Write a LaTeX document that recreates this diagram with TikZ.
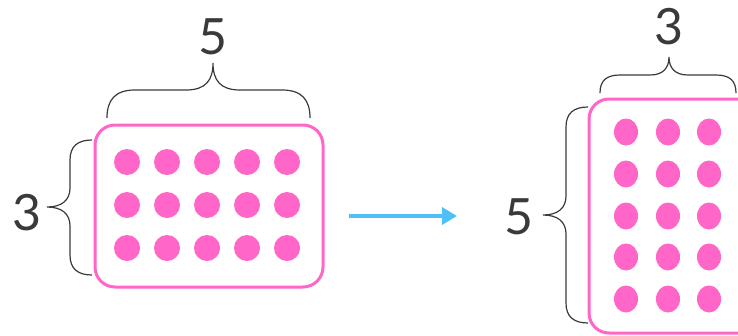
\documentclass[tikz,border=0pt]{standalone}
\usepackage{fontspec}
\setmainfont{Lato}
\usetikzlibrary{arrows.meta}
\definecolor{dotpink}{HTML}{FF66C8}
\definecolor{arrowblue}{HTML}{4FC0F5}
\definecolor{textgray}{HTML}{3A3A3A}
\tikzset{
  box/.style={draw=dotpink, line width=3pt, rounded corners=20pt},
  dot/.style={fill=dotpink},
  brace/.style={draw=textgray, line width=1.2pt},
  count/.style={text=textgray, font=\fontsize{50}{50}\selectfont, inner sep=0pt}
}
\begin{document}
\begin{tikzpicture}[x=1pt, y=-1pt]
        \useasboundingbox (0,0) rectangle (738,335);
        \clip (0,0) rectangle (738,335);
        % left array: 3 rows of 5
        \draw[box] (95,125) rectangle (323,287);
        \foreach \x in {127,167,207,247,287}
            \foreach \y in {162,205,248}
                \fill[dot] (\x,\y) circle (13);
        \draw[brace] (107,118) .. controls (107,100) and (115,90) .. (135,90) -- (186,90)
            .. controls (206,90) and (213,80) .. (213,63)
            .. controls (213,80) and (220,90) .. (240,90) -- (282,90)
            .. controls (302,90) and (310,100) .. (310,118);
        \draw[brace] (92,140) .. controls (78,140) and (70,146) .. (70,160) -- (70,188)
            .. controls (70,200) and (62,207) .. (47,207)
            .. controls (62,207) and (70,214) .. (70,226) -- (70,255)
            .. controls (70,269) and (78,275) .. (92,275);
        \node[count] (five) at (213,37) {5};
        \node[count] (three) at (27,213) {3};
        % arrow
        \coordinate (from) at (349,216);
        \coordinate (to) at (457,216);
        \draw[arrowblue, line width=3.5pt, -{Triangle[length=15pt,width=17pt]}] (from) -- (to);
        % right array: 5 rows of 3
        \draw[box] (589,99) rectangle (760,333);
        \foreach \x in {626,668,709}
            \foreach \y in {132,174,216,257,299}
                \fill[dot] (\x,\y) ellipse (12 and 13.5);
        \draw[brace] (600,93) .. controls (600,81) and (606,75) .. (620,75) -- (650,75)
            .. controls (663,75) and (669,68) .. (669,57)
            .. controls (669,68) and (675,75) .. (688,75) -- (716,75)
            .. controls (730,75) and (736,81) .. (736,93);
        \draw[brace] (588,107) .. controls (574,107) and (566,113) .. (566,127) -- (566,196)
            .. controls (566,208) and (558,215) .. (543,215)
            .. controls (558,215) and (566,222) .. (566,234) -- (566,303)
            .. controls (566,317) and (574,323) .. (588,323);
        \node[count] (threetop) at (669,27) {3};
        \node[count] (fiveside) at (519,217) {5};
    \end{tikzpicture}
\end{document}
